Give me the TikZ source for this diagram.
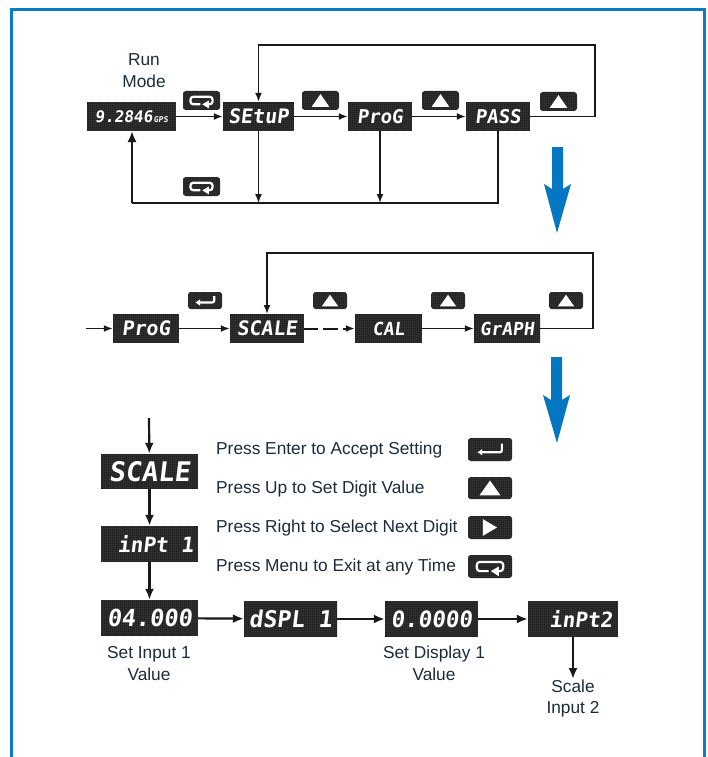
\documentclass[tikz,border=0pt]{standalone}
\usepackage{fontspec}
\setmainfont{Liberation Sans}
\newfontfamily\segfont[FakeSlant=0.12,BoldFont={DejaVu Sans Mono Bold}]{DejaVu Sans Mono}
\usetikzlibrary{arrows.meta}
\definecolor{frameblue}{HTML}{0A7CC4}
\definecolor{arrowblue}{HTML}{0576C2}
\definecolor{boxdark}{HTML}{1C1C1C}
\definecolor{boxgrid}{HTML}{2E2E2E}
\definecolor{labeltext}{HTML}{1C2B3A}
\tikzset{
  dispbox/.style={fill=boxdark, inner sep=0pt, text=white, font=\segfont\bfseries,
    path picture={\draw[boxgrid, line width=0.3pt]
      (path picture bounding box.south west) grid[step=2pt]
      (path picture bounding box.north east);}},
  btnbox/.style={fill=boxdark, rounded corners=3pt, inner sep=0pt,
    path picture={\draw[boxgrid, line width=0.3pt]
      (path picture bounding box.south west) grid[step=2pt]
      (path picture bounding box.north east);}},
  flow/.style={draw=black!90, line width=1.6pt, -{Latex[length=9pt,width=7pt]}},
  heavy/.style={draw=black!90, line width=2.2pt, -{Latex[length=11pt,width=9pt]}},
  plainline/.style={draw=black!90, line width=2pt},
  label/.style={text=labeltext, font=\fontsize{17.3}{20}\selectfont, inner sep=0pt, align=center},
  legend/.style={text=labeltext, font=\fontsize{17.3}{20}\selectfont, inner sep=0pt, anchor=west},
  iconwhite/.style={draw=white, line width=2.2pt},
  iconfill/.style={fill=white},
}
% display: name, x1, y1, x2, y2, font size, text
\newcommand{\disp}[7]{%
  \node[dispbox, minimum width={(#4-#2)*1pt}, minimum height={(#5-#3)*1pt}]
    (#1) at ({(#2+#4)/2},{(#3+#5)/2}) {\fontsize{#6}{#6}\selectfont #7};}
% button: name, x1, y1, x2, y2, icon
\newcommand{\btn}[6]{%
  \node[btnbox, minimum width={(#4-#2)*1pt}, minimum height={(#5-#3)*1pt}]
    (#1) at ({(#2+#4)/2},{(#3+#5)/2}) {};
  \pgfmathsetlengthmacro{\btnw}{(#4-#2)*1pt}%
  \pgfmathsetlengthmacro{\btnh}{(#5-#3)*1pt}%
  \begin{scope}[shift={(#1.center)}, x=\btnw, y=\btnh]
    \csname icon#6\endcsname
  \end{scope}}
\newcommand{\iconup}{\fill[iconfill] (-0.24,-0.34) -- (0.24,-0.34) -- (0,0.34) -- cycle;}
\newcommand{\iconright}{\fill[iconfill] (-0.16,-0.36) -- (0.16,0) -- (-0.16,0.36) -- cycle;}
\newcommand{\iconenter}{%
  \draw[iconwhite, rounded corners=2pt, -{Latex[length=5pt,width=7pt]}]
    (0.27,0.26) -- (0.27,-0.12) -- (-0.29,-0.12);}
\newcommand{\iconmenu}{%
  \draw[iconwhite, rounded corners=3pt] (-0.03,-0.2) -- (-0.3,-0.2) -- (-0.3,0.2) -- (0.3,0.2) -- (0.3,-0.2) -- (0.17,-0.2);
  \fill[iconfill] (0.2,0.0) -- (0.2,-0.42) -- (0.02,-0.2) -- cycle;}

\begin{document}
\begin{tikzpicture}[x=1pt,y=-1pt]
\useasboundingbox (0,0) rectangle (707,757);
% frame
\draw[frameblue, line width=3pt] (11.5,757) -- (11.5,9.5) -- (704.5,9.5) -- (704.5,757);

% --- row 1 ---
\node[label] (runmode) at (144,70.5) {Run\\[2.5pt]Mode};
\disp{run}{87}{102}{176}{131}{16}{9.2846\kern1pt{\fontsize{8}{8}\selectfont GPS}}
\disp{setup}{223}{102}{294}{131}{20}{SEtuP}
\disp{prog}{348}{102}{412}{131}{19}{ProG}
\disp{pass}{466}{102}{530}{131}{19}{PASS}
\btn{bmenua}{183}{91}{220}{110}{menu}
\btn{bupa}{302}{91}{339}{110}{up}
\btn{bupb}{422}{91}{459}{110}{up}
\btn{bupc}{540}{92}{577}{111}{up}
\btn{bmenub}{183}{177}{220}{196}{menu}
\coordinate (topr) at (595,45);
\coordinate (botr) at (498,203);
\draw[flow] (run) -- (setup);
\draw[flow] (setup) -- (prog);
\draw[flow] (prog) -- (pass);
\draw[flow] (pass.east) -- (pass.east -| topr) -- (topr) -- (topr -| setup.north) -- (setup.north);
\draw[plainline] (pass.south -| botr) -- (botr) -- (132,203) coordinate (botl);
\draw[heavy] (botl) -- (132,131);
\draw[flow] (setup.south) -- (setup.south |- botr);
\draw[flow] (prog.south) -- (prog.south |- botr);
% blue arrow
\fill[arrowblue] (552,147) -- (563,147) -- (563,189) -- (571,184) -- (557,233) -- (544,184) -- (552,189) -- cycle;

% --- row 2 ---
\coordinate (inb) at (86,328.5);
\disp{progb}{113}{314}{179}{343}{20}{ProG}
\disp{scale}{230}{314}{304}{343}{20}{SCALE}
\disp{cal}{355}{314}{422}{343}{18}{CAL}
\disp{graph}{474}{314}{540}{343}{18}{GrAPH}
\btn{bentera}{188}{292}{222}{309}{enter}
\btn{bupd}{313}{292}{347}{309}{up}
\btn{bupe}{431}{292}{465}{309}{up}
\btn{bupf}{549}{292}{583}{309}{up}
\coordinate (toprb) at (593,253);
\draw[flow] (inb) -- (progb);
\draw[flow] (progb) -- (scale);
\draw[flow, line width=2pt, dash pattern=on 14pt off 5pt on 15pt off 5pt on 20pt] (scale) -- (cal);
\draw[flow] (cal) -- (graph);
\draw[flow] (graph.east) -- (graph.east -| toprb) -- (toprb) -- (267,253) -- (267,314);
\fill[arrowblue] (551,357) -- (562,357) -- (562,400) -- (570,395) -- (557,443) -- (543,395) -- (551,400) -- cycle;

% --- row 3 ---
\coordinate (inc) at (149,418);
\disp{scaleb}{101}{454}{198}{489}{27}{SCALE}
\disp{inpta}{101}{526}{198}{562}{21}{\hspace*{12pt}inPt 1}
\disp{fouro}{101}{600}{198}{636}{23.5}{04.000}
\disp{dspl}{244}{601}{337}{637}{23}{dSPL 1}
\disp{zero}{385}{601}{478}{637}{22.5}{0.0000}
\disp{inptb}{528}{601}{618}{637}{21}{\hspace*{16pt}inPt2}
\draw[heavy] (inc) -- (scaleb);
\draw[heavy] (scaleb) -- (inpta);
\draw[heavy] (inpta) -- (fouro);
\draw[heavy] (fouro) -- (dspl);
\draw[heavy] (dspl) -- (zero);
\draw[heavy] (zero) -- (inptb);
\coordinate (scalein) at (573,679);
\draw[heavy] (inptb.south -| scalein) -- (scalein);
\node[label] (setinput) at (149,663.5) {Set Input 1\\[2pt]Value};
\node[label] (setdisp) at (434,663.5) {Set Display 1\\[2pt]Value};
\node[label] (scaletwo) at (573,699) {Scale\\[1pt]Input 2};
% legend
\node[legend] (lega) at (216,449.7) {Press Enter to Accept Setting};
\node[legend] (legb) at (216,488.7) {Press Up to Set Digit Value};
\node[legend] (legc) at (216,527.7) {Press Right to Select Next Digit};
\node[legend] (legd) at (216,566.7) {Press Menu to Exit at any Time};
\btn{ka}{468}{438}{512}{461}{enter}
\btn{kb}{468}{477}{512}{499}{up}
\btn{kc}{468}{516}{512}{539}{right}
\btn{kd}{468}{555}{512}{578}{menu}
\end{tikzpicture}
\end{document}
